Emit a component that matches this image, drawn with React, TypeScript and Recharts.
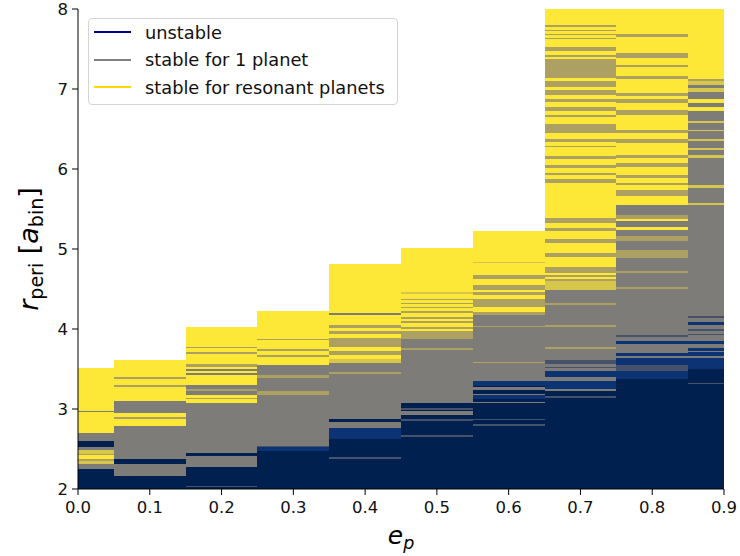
import React from 'react';
import { ComposedChart, XAxis, YAxis, ReferenceArea, Label } from 'recharts';

// e_p values of each column and the bin edges used for drawing (pcolormesh-style)
const epValues = [0, 0.1, 0.2, 0.3, 0.4, 0.5, 0.6, 0.7, 0.8, 0.9];
const binEdges = [0, 0.05, 0.15, 0.25, 0.35, 0.45, 0.55, 0.65, 0.75, 0.85, 0.9];
const columnTops = [3.51, 3.61, 4.02, 4.22, 4.81, 5.01, 5.23, 8.0, 8.0, 8.0];

const xTicks = [0, 0.1, 0.2, 0.3, 0.4, 0.5, 0.6, 0.7, 0.8, 0.9];
const yTicks = [2, 3, 4, 5, 6, 7, 8];

// state codes: U unstable, B unstable (lighter), M unstable/stable mix,
// S stable for 1 planet, O stable/resonant mix, Y mostly resonant, R stable for resonant planets
const stateColors: Record<string, string> = {
  U: '#00214f',
  B: '#0c3474',
  M: '#46526a',
  S: '#7d7c78',
  O: '#aca062',
  Y: '#d6c64c',
  R: '#fde838',
};

// each entry: [lower r_peri of stripe, state]
const ep00: [number, string][] = [[2.00,'U'],[2.25,'S'],[2.31,'Y'],[2.35,'O'],[2.37,'R'],[2.42,'O'],[2.44,'Y'],[2.49,'S'],[2.53,'U'],[2.60,'S'],[2.70,'R'],[2.96,'S'],[2.98,'R']];
const ep01: [number, string][] = [[2.00,'U'],[2.16,'S'],[2.31,'U'],[2.375,'S'],[2.79,'R'],[2.88,'O'],[2.90,'R'],[2.95,'S'],[3.10,'R'],[3.28,'O'],[3.30,'R'],[3.38,'O'],[3.40,'R']];
const ep02: [number, string][] = [[2.00,'U'],[2.02,'M'],[2.04,'U'],[2.28,'S'],[2.41,'U'],[2.45,'S'],[3.08,'R'],[3.12,'O'],[3.14,'R'],[3.18,'S'],[3.23,'O'],[3.25,'S'],[3.30,'R'],[3.43,'S'],[3.45,'R'],[3.47,'S'],[3.50,'R'],[3.53,'O'],[3.56,'R'],[3.69,'O'],[3.71,'R'],[3.76,'O'],[3.78,'R']];
const ep03: [number, string][] = [[2.00,'U'],[2.48,'B'],[2.52,'M'],[2.54,'S'],[3.18,'O'],[3.22,'S'],[3.39,'O'],[3.43,'S'],[3.55,'R'],[3.65,'O'],[3.68,'R'],[3.72,'O'],[3.75,'R'],[3.86,'O'],[3.88,'R']];
const ep04: [number, string][] = [[2.00,'U'],[2.38,'M'],[2.40,'U'],[2.62,'B'],[2.76,'S'],[2.84,'U'],[2.87,'S'],[3.44,'O'],[3.46,'S'],[3.57,'Y'],[3.62,'R'],[3.67,'O'],[3.73,'R'],[3.78,'O'],[3.89,'R'],[3.94,'O'],[3.97,'R'],[4.01,'O'],[4.05,'R'],[4.17,'S'],[4.20,'R']];
const ep05: [number, string][] = [[2.00,'U'],[2.65,'M'],[2.67,'U'],[2.85,'M'],[2.88,'U'],[2.93,'S'],[2.97,'U'],[2.99,'M'],[3.01,'U'],[3.07,'S'],[3.74,'O'],[3.76,'S'],[3.87,'O'],[3.97,'R'],[4.00,'O'],[4.03,'R'],[4.08,'O'],[4.10,'R'],[4.13,'O'],[4.15,'R'],[4.20,'O'],[4.22,'R'],[4.26,'O'],[4.28,'R'],[4.31,'O'],[4.33,'R'],[4.36,'O'],[4.38,'R'],[4.44,'Y'],[4.46,'R']];
const ep06: [number, string][] = [[2.00,'U'],[2.79,'M'],[2.81,'U'],[2.86,'M'],[2.88,'U'],[3.07,'S'],[3.09,'U'],[3.13,'B'],[3.17,'S'],[3.19,'U'],[3.24,'S'],[3.27,'U'],[3.29,'B'],[3.35,'S'],[3.57,'O'],[3.59,'S'],[4.02,'O'],[4.04,'S'],[4.18,'O'],[4.21,'R'],[4.27,'O'],[4.37,'R'],[4.43,'O'],[4.46,'R'],[4.49,'O'],[4.55,'R'],[4.62,'O'],[4.68,'R'],[4.82,'Y'],[4.84,'R']];
const ep07: [number, string][] = [[2.00,'U'],[3.14,'M'],[3.16,'U'],[3.23,'S'],[3.25,'B'],[3.35,'S'],[3.40,'B'],[3.47,'S'],[3.51,'M'],[3.53,'S'],[3.56,'M'],[3.61,'S'],[3.75,'O'],[3.77,'S'],[4.03,'O'],[4.05,'S'],[4.30,'O'],[4.32,'S'],[4.49,'Y'],[4.60,'O'],[4.63,'R'],[4.65,'O'],[4.68,'R'],[4.70,'O'],[4.78,'R'],[4.90,'O'],[4.95,'R'],[5.07,'O'],[5.12,'R'],[5.22,'O'],[5.26,'R'],[5.33,'O'],[5.39,'R'],[5.83,'O'],[5.87,'R'],[5.93,'O'],[5.95,'R'],[6.01,'O'],[6.05,'R'],[6.12,'O'],[6.16,'R'],[6.22,'O'],[6.23,'R'],[6.28,'O'],[6.29,'R'],[6.34,'O'],[6.37,'R'],[6.45,'O'],[6.56,'R'],[6.65,'O'],[6.68,'R'],[6.73,'O'],[6.78,'R'],[6.84,'O'],[6.88,'R'],[6.93,'O'],[6.99,'R'],[7.03,'O'],[7.10,'R'],[7.14,'O'],[7.37,'R'],[7.40,'O'],[7.43,'R'],[7.47,'O'],[7.52,'R'],[7.62,'O'],[7.64,'R'],[7.67,'O'],[7.69,'R'],[7.72,'O'],[7.74,'R'],[7.77,'O'],[7.80,'R']];
const ep08: [number, string][] = [[2.00,'U'],[3.37,'B'],[3.48,'M'],[3.55,'B'],[3.64,'S'],[3.66,'B'],[3.70,'S'],[3.81,'B'],[3.85,'S'],[3.90,'M'],[3.93,'S'],[4.50,'O'],[4.52,'S'],[4.70,'O'],[4.72,'S'],[4.89,'O'],[4.99,'S'],[5.10,'O'],[5.16,'S'],[5.24,'R'],[5.28,'S'],[5.35,'R'],[5.37,'O'],[5.43,'S'],[5.55,'R'],[5.66,'O'],[5.74,'R'],[5.80,'O'],[5.83,'R'],[5.89,'O'],[5.93,'R'],[6.03,'O'],[6.08,'R'],[6.14,'O'],[6.18,'R'],[6.33,'O'],[6.37,'R'],[6.45,'O'],[6.49,'R'],[6.68,'O'],[6.74,'R'],[6.82,'O'],[6.87,'R'],[6.91,'O'],[6.95,'R'],[7.12,'O'],[7.16,'R'],[7.27,'O'],[7.30,'R'],[7.39,'O'],[7.45,'R'],[7.65,'O'],[7.69,'R']];
const ep09: [number, string][] = [[2.00,'U'],[3.31,'M'],[3.33,'U'],[3.50,'B'],[3.64,'S'],[3.66,'B'],[3.71,'S'],[3.72,'B'],[3.76,'S'],[3.81,'B'],[3.85,'S'],[3.92,'M'],[3.94,'S'],[3.98,'M'],[4.00,'S'],[4.05,'B'],[4.09,'S'],[4.14,'M'],[4.16,'S'],[5.55,'Y'],[5.57,'S'],[5.76,'Y'],[5.80,'S'],[6.14,'Y'],[6.18,'S'],[6.24,'Y'],[6.26,'S'],[6.35,'Y'],[6.37,'S'],[6.47,'Y'],[6.49,'S'],[6.57,'Y'],[6.60,'S'],[6.73,'R'],[6.78,'S'],[6.82,'R'],[6.87,'S'],[6.96,'Y'],[7.01,'S'],[7.05,'Y'],[7.10,'O'],[7.13,'R']];

const columns = [ep00, ep01, ep02, ep03, ep04, ep05, ep06, ep07, ep08, ep09];

const legendItems = [
  { label: 'unstable', color: '#00008b' },
  { label: 'stable for 1 planet', color: '#808080' },
  { label: 'stable for resonant planets', color: '#ffd700' },
];

const chartData = epValues.map((ep, i) => ({ ep, top: columnTops[i] }));

const FONT = "'DejaVu Sans', sans-serif";

const XLabel = (props: any) => {
  const vb = props.viewBox || { x: 78, y: 489, width: 646, height: 67 };
  const cx = vb.x + vb.width / 2;
  return (
    <text x={cx} y={vb.y + 55} textAnchor="middle" fontFamily={FONT} fontSize={25} fill="#000">
      <tspan fontStyle="italic">e</tspan>
      <tspan fontStyle="italic" fontSize={17.5} dy={5}>p</tspan>
    </text>
  );
};

const YLabel = (props: any) => {
  const vb = props.viewBox || { x: 18, y: 9, width: 60, height: 480 };
  const cy = vb.y + vb.height / 2;
  const x = 38;
  return (
    <text
      x={x}
      y={cy}
      transform={`rotate(-90 ${x} ${cy})`}
      textAnchor="middle"
      fontFamily={FONT}
      fontSize={27}
      fill="#000"
    >
      <tspan fontStyle="italic">r</tspan>
      <tspan fontSize={19} dy={5}>peri</tspan>
      <tspan dy={-5}> [</tspan>
      <tspan fontStyle="italic">a</tspan>
      <tspan fontSize={19} dy={5}>bin</tspan>
      <tspan dy={-5}>]</tspan>
    </text>
  );
};

export default function App() {
  const areas: React.ReactNode[] = [];
  columns.forEach((stripes, i) => {
    stripes.forEach((s, j) => {
      const y1 = s[0];
      const y2 = j + 1 < stripes.length ? stripes[j + 1][0] : columnTops[i];
      areas.push(
        <ReferenceArea
          key={`c${i}-${j}`}
          x1={binEdges[i]}
          x2={binEdges[i + 1]}
          y1={y1}
          y2={y2}
          fill={stateColors[s[1]]}
          fillOpacity={1}
          stroke="none"
          ifOverflow="visible"
        />
      );
    });
  });

  return (
    <div style={{ position: 'absolute', left: 0, top: 0, width: 740, height: 556, background: '#fff' }}>
      <style>{'.recharts-reference-area-rect{shape-rendering:crispEdges}'}</style>
      <ComposedChart
        width={740}
        height={556}
        data={chartData}
        margin={{ top: 9, right: 16, left: 18, bottom: 0 }}
      >
        <XAxis
          type="number"
          dataKey="ep"
          domain={[0, 0.9]}
          ticks={xTicks}
          allowDataOverflow
          tickFormatter={(v: number) => v.toFixed(1)}
          height={67}
          stroke="#000"
          tickSize={6}
          tickMargin={6}
          tick={{ fill: '#111', fontSize: 16.5, fontFamily: FONT }}
          interval={0}
        >
          <Label content={<XLabel />} />
        </XAxis>
        <YAxis
          type="number"
          dataKey="top"
          domain={[2, 8]}
          ticks={yTicks}
          allowDataOverflow
          width={60}
          stroke="#000"
          tickSize={6}
          tickMargin={4}
          tick={{ fill: '#111', fontSize: 16.5, fontFamily: FONT }}
          interval={0}
        >
          <Label content={<YLabel />} />
        </YAxis>
        <XAxis xAxisId="top" orientation="top" type="number" domain={[0, 0.9]} height={0} tick={false} tickLine={false} stroke="#000" />
        <YAxis yAxisId="right" orientation="right" type="number" domain={[2, 8]} width={0} tick={false} tickLine={false} stroke="#000" />
        {areas}
      </ComposedChart>
      <div
        style={{
          position: 'absolute',
          left: 88,
          top: 18,
          width: 308,
          height: 85,
          border: '1px solid #d5d5d5',
          borderRadius: 4,
          background: 'rgba(255,255,255,0.85)',
          fontFamily: FONT,
          fontSize: 17.8,
          color: '#111',
        }}
      >
        {legendItems.map((it, k) => (
          <div key={it.label} style={{ position: 'absolute', left: 0, top: 1 + k * 27.5, height: 24, display: 'flex', alignItems: 'center', whiteSpace: 'nowrap' }}>
            <div style={{ marginLeft: 5, width: 37, height: 2, background: it.color }} />
            <span style={{ marginLeft: 14 }}>{it.label}</span>
          </div>
        ))}
      </div>
    </div>
  );
}
